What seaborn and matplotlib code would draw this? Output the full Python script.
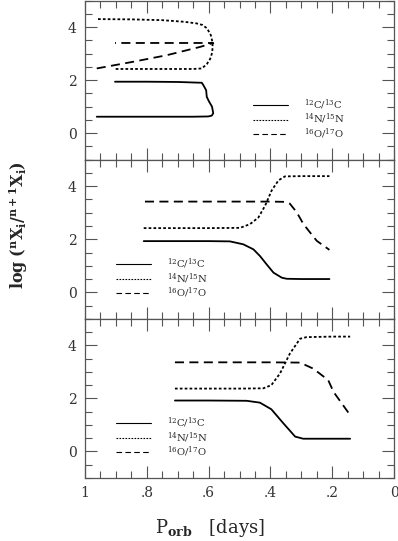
import matplotlib
matplotlib.use("Agg")
import matplotlib.pyplot as plt
import seaborn as sns
from matplotlib.ticker import MultipleLocator, FixedLocator, FixedFormatter

# ---- data ----
# top panel: tracks that turn around near P ~ 0.59 d
top_c_x = [0.962, 0.85, 0.75, 0.65, 0.601, 0.590, 0.585, 0.589, 0.599, 0.606, 0.608, 0.617, 0.622, 0.70, 0.80, 0.903]
top_c_y = [0.62, 0.62, 0.62, 0.62, 0.63, 0.66, 0.75, 1.00, 1.20, 1.37, 1.62, 1.81, 1.90, 1.93, 1.94, 1.94]
top_n_x = [0.958, 0.85, 0.75, 0.68, 0.64, 0.62, 0.605, 0.593, 0.587, 0.588, 0.595, 0.606, 0.622, 0.65, 0.75, 0.85, 0.903]
top_n_y = [4.30, 4.29, 4.26, 4.20, 4.14, 4.08, 3.95, 3.70, 3.40, 3.05, 2.80, 2.60, 2.44, 2.42, 2.42, 2.42, 2.42]
top_o_x = [0.962, 0.845, 0.735, 0.628, 0.585, 0.65, 0.75, 0.85, 0.903]
top_o_y = [2.44, 2.69, 2.94, 3.25, 3.40, 3.40, 3.40, 3.40, 3.40]

# middle panel
mid_c_x = [0.81, 0.70, 0.60, 0.531, 0.488, 0.455, 0.434, 0.412, 0.390, 0.363, 0.347, 0.30, 0.25, 0.209]
mid_c_y = [1.93, 1.93, 1.93, 1.92, 1.81, 1.62, 1.37, 1.05, 0.74, 0.55, 0.51, 0.50, 0.50, 0.50]
mid_n_x = [0.81, 0.70, 0.60, 0.498, 0.466, 0.439, 0.417, 0.396, 0.374, 0.353, 0.30, 0.25, 0.209]
mid_n_y = [2.42, 2.42, 2.42, 2.43, 2.57, 2.82, 3.27, 3.84, 4.22, 4.37, 4.38, 4.38, 4.38]
mid_o_x = [0.806, 0.70, 0.60, 0.50, 0.40, 0.353, 0.337, 0.315, 0.293, 0.272, 0.25, 0.209]
mid_o_y = [3.42, 3.42, 3.42, 3.42, 3.42, 3.41, 3.34, 3.02, 2.57, 2.26, 1.94, 1.60]

# bottom panel
bot_c_x = [0.709, 0.60, 0.477, 0.434, 0.397, 0.358, 0.320, 0.294, 0.25, 0.20, 0.142]
bot_c_y = [1.92, 1.92, 1.91, 1.84, 1.59, 1.06, 0.56, 0.48, 0.48, 0.48, 0.48]
bot_n_x = [0.709, 0.60, 0.50, 0.423, 0.397, 0.369, 0.337, 0.304, 0.283, 0.20, 0.142]
bot_n_y = [2.37, 2.37, 2.37, 2.38, 2.50, 2.94, 3.69, 4.25, 4.31, 4.33, 4.33]
bot_o_x = [0.709, 0.60, 0.50, 0.40, 0.304, 0.261, 0.213, 0.196, 0.142]
bot_o_y = [3.36, 3.36, 3.36, 3.36, 3.35, 3.12, 2.69, 2.25, 1.37]

ratio_labels = [r'$^{12}$C/$^{13}$C', r'$^{14}$N/$^{15}$N', r'$^{16}$O/$^{17}$O']
xtick_vals = [0, 0.2, 0.4, 0.6, 0.8, 1.0]
xtick_labels = ['0', '.2', '.4', '.6', '.8', '1']
ytick_vals = [0, 2, 4]

panels = [
    (top_c_x, top_c_y, top_n_x, top_n_y, top_o_x, top_o_y),
    (mid_c_x, mid_c_y, mid_n_x, mid_n_y, mid_o_x, mid_o_y),
    (bot_c_x, bot_c_y, bot_n_x, bot_n_y, bot_o_x, bot_o_y),
]
# legend anchor (axes fraction) per panel
legend_pos = [(0.545, 0.255), (0.1, 0.255), (0.1, 0.255)]

sns.set_style("ticks")
plt.rcParams['font.family'] = ['DejaVu Serif']
plt.rcParams['mathtext.fontset'] = 'dejavuserif'

fig = plt.figure(figsize=(3.98, 5.41), dpi=100)
axes = fig.subplots(3, 1, sharex=True)
fig.subplots_adjust(left=0.2136, right=0.99, top=0.999, bottom=0.1165, hspace=0)

styles = ['-', (0, (1.5, 1.2)), (0, (5, 3))]
for ax, data, lpos in zip(axes, panels, legend_pos):
    xs = data[0::2]
    ys = data[1::2]
    for x, y, ls in zip(xs, ys, styles):
        sns.lineplot(x=x, y=y, sort=False, estimator=None, ax=ax,
                     color='black', lw=1.3, linestyle=ls)
    ax.set_xlim(1, 0)
    ax.set_ylim(-1, 5)
    ax.xaxis.set_major_locator(FixedLocator(xtick_vals))
    ax.xaxis.set_major_formatter(FixedFormatter(xtick_labels))
    ax.xaxis.set_minor_locator(MultipleLocator(0.05))
    ax.yaxis.set_major_locator(FixedLocator(ytick_vals))
    ax.yaxis.set_minor_locator(MultipleLocator(0.5))
    ax.tick_params(which='both', direction='in', top=True, right=True,
                   color='#555555', width=0.8, labelsize=10, labelcolor='#333333')
    ax.tick_params(which='major', length=8.5, pad=6)
    ax.tick_params(which='minor', length=5)
    for sp in ax.spines.values():
        sp.set_color('#555555')
        sp.set_linewidth(0.9)
    ax.set_xlabel('')
    ax.set_ylabel('')

    # legend with thin handles
    handles = []
    for ls in styles:
        h, = ax.plot([], [], color='black', lw=0.8, linestyle=ls)
        handles.append(h)
    ax.legend(handles, ratio_labels, loc='center left', bbox_to_anchor=lpos,
              frameon=False, fontsize=7.2, handlelength=3.5, handletextpad=1.6,
              labelspacing=0.0, borderpad=0, borderaxespad=0, handleheight=0.5)

for ax in axes[:2]:
    ax.tick_params(labelbottom=False)

fig.text(0.047, 0.584, r'$\mathbf{log\ (^{n}X_{i}/^{n+1}X_{i})}$', rotation=90,
         ha='center', va='center', fontsize=11.5)
fig.text(155 / 398, 1 - 528 / 541, r'P$_{\mathbf{orb}}$   [days]', ha='left', va='center',
         fontsize=13)

fig.savefig('out.png', dpi=100)
